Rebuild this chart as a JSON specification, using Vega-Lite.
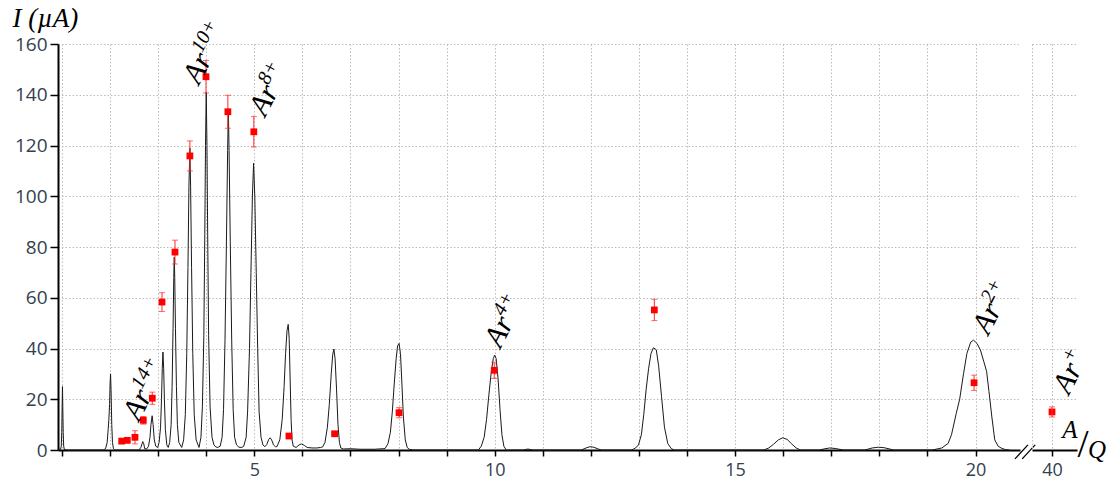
{
  "$schema": "https://vega.github.io/schema/vega-lite/v6.json",
  "background": "white",
  "padding": {"left": 12, "top": 4, "right": 0, "bottom": 0},
  "autosize": {"type": "pad"},
  "config": {
    "view": {"stroke": null},
    "axis": {"labelFlush": false, "labelOverlap": false, "labelBound": false}
  },
  "datasets": {
    "spectrum": [
      {"x":0.92,"y":0.3},{"x":0.97,"y":0.3},{"x":0.985,"y":1.5},{"x":0.995,"y":7},{"x":1.003,"y":17},{"x":1.01,"y":25},{"x":1.017,"y":17},{"x":1.025,"y":7},{"x":1.035,"y":1.5},{"x":1.05,"y":0.2},{"x":1.1,"y":0},
      {"x":1.5,"y":0},{"x":1.88,"y":0},{"x":1.91,"y":0.8},{"x":1.94,"y":3},{"x":1.96,"y":8},{"x":1.975,"y":12},{"x":1.99,"y":18},{"x":2.0,"y":26},{"x":2.01,"y":30},{"x":2.02,"y":24},{"x":2.035,"y":10},{"x":2.05,"y":3},{"x":2.07,"y":0.5},{"x":2.1,"y":0},
      {"x":2.3,"y":0},{"x":2.6,"y":0},{"x":2.64,"y":1},{"x":2.68,"y":3.3},{"x":2.7,"y":2.5},{"x":2.72,"y":0.5},{"x":2.76,"y":0.4},{"x":2.8,"y":1.5},{"x":2.83,"y":5},{"x":2.85,"y":10},{"x":2.875,"y":13.5},{"x":2.895,"y":10},{"x":2.92,"y":4},{"x":2.95,"y":1.5},{"x":2.99,"y":1},
      {"x":3.02,"y":3},{"x":3.05,"y":9},{"x":3.07,"y":20},{"x":3.085,"y":32},{"x":3.1,"y":38.6},{"x":3.115,"y":32},{"x":3.13,"y":20},{"x":3.15,"y":8},{"x":3.18,"y":2},{"x":3.21,"y":1},
      {"x":3.24,"y":3},{"x":3.27,"y":10},{"x":3.29,"y":25},{"x":3.31,"y":48},{"x":3.325,"y":68},{"x":3.335,"y":76},{"x":3.345,"y":68},{"x":3.36,"y":48},{"x":3.38,"y":25},{"x":3.4,"y":10},{"x":3.43,"y":3},{"x":3.49,"y":1},
      {"x":3.53,"y":4},{"x":3.565,"y":14},{"x":3.595,"y":38},{"x":3.62,"y":72},{"x":3.64,"y":104},{"x":3.66,"y":119},{"x":3.675,"y":104},{"x":3.695,"y":72},{"x":3.72,"y":38},{"x":3.75,"y":14},{"x":3.79,"y":4},{"x":3.85,"y":1},
      {"x":3.89,"y":5},{"x":3.92,"y":17},{"x":3.95,"y":45},{"x":3.97,"y":85},{"x":3.985,"y":120},{"x":4.0,"y":141},{"x":4.015,"y":120},{"x":4.03,"y":85},{"x":4.05,"y":45},{"x":4.08,"y":17},{"x":4.12,"y":5},{"x":4.16,"y":2},{"x":4.2,"y":1.2},{"x":4.24,"y":1},
      {"x":4.29,"y":1.5},{"x":4.33,"y":5},{"x":4.36,"y":16},{"x":4.39,"y":43},{"x":4.42,"y":82},{"x":4.445,"y":118},{"x":4.46,"y":134},{"x":4.475,"y":118},{"x":4.5,"y":82},{"x":4.53,"y":43},{"x":4.56,"y":16},{"x":4.59,"y":5},{"x":4.63,"y":2},{"x":4.68,"y":1.1},{"x":4.74,"y":1},
      {"x":4.78,"y":1.5},{"x":4.83,"y":5},{"x":4.86,"y":15},{"x":4.9,"y":40},{"x":4.93,"y":70},{"x":4.96,"y":100},{"x":4.985,"y":113},{"x":5.01,"y":100},{"x":5.04,"y":70},{"x":5.07,"y":40},{"x":5.1,"y":15},{"x":5.14,"y":5},{"x":5.18,"y":2},{"x":5.22,"y":1.3},
      {"x":5.26,"y":2.2},{"x":5.3,"y":4.2},{"x":5.33,"y":4.8},{"x":5.36,"y":4},{"x":5.4,"y":2},{"x":5.44,"y":1.3},{"x":5.47,"y":1.3},
      {"x":5.53,"y":4},{"x":5.58,"y":12},{"x":5.62,"y":25},{"x":5.65,"y":38},{"x":5.68,"y":47},{"x":5.705,"y":49.5},{"x":5.725,"y":44},{"x":5.745,"y":28},{"x":5.765,"y":12},{"x":5.785,"y":4},{"x":5.81,"y":1.5},
      {"x":5.87,"y":1},{"x":5.93,"y":2},{"x":5.98,"y":2.4},{"x":6.04,"y":1.8},{"x":6.1,"y":1},{"x":6.2,"y":0.8},{"x":6.3,"y":0.8},{"x":6.38,"y":1},
      {"x":6.42,"y":1.2},{"x":6.47,"y":3},{"x":6.52,"y":9},{"x":6.56,"y":18},{"x":6.6,"y":30},{"x":6.63,"y":37.5},{"x":6.655,"y":39.8},{"x":6.68,"y":36},{"x":6.71,"y":24},{"x":6.74,"y":10},{"x":6.77,"y":3},{"x":6.8,"y":0.8},{"x":6.85,"y":0.4},
      {"x":7.0,"y":0.5},{"x":7.2,"y":0.3},{"x":7.5,"y":0.3},{"x":7.68,"y":0.5},
      {"x":7.72,"y":0.6},{"x":7.78,"y":2.5},{"x":7.83,"y":7},{"x":7.87,"y":15},{"x":7.91,"y":26},{"x":7.95,"y":36},{"x":7.98,"y":41},{"x":8.01,"y":42},{"x":8.04,"y":38},{"x":8.07,"y":26},{"x":8.1,"y":13},{"x":8.14,"y":4},{"x":8.18,"y":1},{"x":8.22,"y":0.3},{"x":8.3,"y":0},
      {"x":9.0,"y":0},{"x":9.66,"y":0},{"x":9.72,"y":1.5},{"x":9.78,"y":5},{"x":9.83,"y":12},{"x":9.88,"y":22},{"x":9.93,"y":31},{"x":9.97,"y":36},{"x":10.0,"y":37.4},{"x":10.03,"y":36},{"x":10.07,"y":28},{"x":10.11,"y":16},{"x":10.15,"y":6},{"x":10.19,"y":1.5},{"x":10.24,"y":0},
      {"x":10.6,"y":0},{"x":10.69,"y":0.4},{"x":10.78,"y":0},
      {"x":11.8,"y":0},{"x":11.9,"y":0.8},{"x":11.98,"y":1.3},{"x":12.06,"y":1.1},{"x":12.15,"y":0.4},{"x":12.22,"y":0},
      {"x":12.85,"y":0},{"x":12.93,"y":0.8},{"x":12.99,"y":2},{"x":13.05,"y":6},{"x":13.1,"y":14},{"x":13.15,"y":24},{"x":13.2,"y":32},{"x":13.25,"y":38},{"x":13.3,"y":40.3},{"x":13.36,"y":39.5},{"x":13.41,"y":33},{"x":13.47,"y":21},{"x":13.53,"y":9},{"x":13.6,"y":2.5},{"x":13.67,"y":0.6},{"x":13.73,"y":0},
      {"x":15.6,"y":0},{"x":15.7,"y":0.8},{"x":15.8,"y":2.3},{"x":15.9,"y":4},{"x":15.99,"y":4.8},{"x":16.08,"y":4.2},{"x":16.17,"y":2.5},{"x":16.27,"y":0.8},{"x":16.36,"y":0},
      {"x":16.75,"y":0},{"x":16.87,"y":0.5},{"x":16.97,"y":0.8},{"x":17.08,"y":0.6},{"x":17.25,"y":0},
      {"x":17.7,"y":0},{"x":17.85,"y":0.8},{"x":17.98,"y":1.1},{"x":18.1,"y":0.9},{"x":18.3,"y":0},
      {"x":19.1,"y":0},{"x":19.3,"y":0.8},{"x":19.43,"y":2.6},{"x":19.5,"y":6},{"x":19.6,"y":14.5},{"x":19.67,"y":20},{"x":19.75,"y":30},{"x":19.82,"y":38},{"x":19.9,"y":42.5},{"x":19.96,"y":43.3},{"x":20.03,"y":42},{"x":20.1,"y":39.5},{"x":20.17,"y":35},{"x":20.23,"y":31},{"x":20.28,"y":23},{"x":20.34,"y":13},{"x":20.4,"y":4},{"x":20.47,"y":1.5},{"x":20.55,"y":0.6},{"x":20.62,"y":0.2},{"x":20.7,"y":0}
    ],
    "ions": [
      {"x":2.242,"y":3.5,"lo":3.0,"hi":4.0},
      {"x":2.358,"y":3.8,"lo":3.3,"hi":4.3},
      {"x":2.518,"y":5.0,"lo":2.4,"hi":7.6},
      {"x":2.691,"y":11.7,"lo":10.2,"hi":13.2},
      {"x":2.878,"y":20.4,"lo":18.0,"hi":22.8},
      {"x":3.08,"y":58.3,"lo":54.6,"hi":62.0},
      {"x":3.35,"y":78.0,"lo":73.3,"hi":82.7},
      {"x":3.66,"y":115.9,"lo":110.0,"hi":121.8},
      {"x":3.995,"y":147.1,"lo":140.7,"hi":153.5},
      {"x":4.45,"y":133.3,"lo":126.8,"hi":139.8},
      {"x":4.99,"y":125.4,"lo":119.4,"hi":131.4},
      {"x":5.72,"y":5.5,"lo":5.0,"hi":6.0},
      {"x":6.67,"y":6.4,"lo":5.9,"hi":6.9},
      {"x":8.01,"y":14.7,"lo":12.7,"hi":16.7},
      {"x":9.99,"y":31.4,"lo":28.2,"hi":34.6},
      {"x":13.32,"y":55.2,"lo":51.0,"hi":59.4},
      {"x":19.97,"y":26.5,"lo":23.5,"hi":29.5}
    ],
    "ion1": [
      {"x":40,"y":15.0,"lo":13.0,"hi":17.0}
    ],
    "labels": [
      {"s":"14+","x":2.6,"y":11},
      {"s":"10+","x":3.85,"y":143.6},
      {"s":"8+","x":5.23,"y":131},
      {"s":"4+","x":10.12,"y":39.8},
      {"s":"2+","x":20.27,"y":45}
    ],
    "label1": [
      {"s":"+","x":41.7,"y":21.5}
    ],
    "breaks": [
      {"x":20.82,"x2":21.09,"y":-3.5,"y2":2.0},
      {"x":20.97,"x2":21.24,"y":-3.5,"y2":2.0}
    ],
    "aq": [
      {"t":"A","x":41.8,"y":4.7},
      {"t":"/","x":43.1,"y":2.0},
      {"t":"Q","x":44.5,"y":-3.0}
    ]
  },
  "hconcat": [
    {
      "width": 962,
      "height": 406,
      "layer": [
        {
          "data": {"name": "spectrum"},
          "mark": {"type": "line", "color": "#1a1a1a", "strokeWidth": 1},
          "encoding": {
            "x": {"field": "x", "type": "quantitative", "title": null,
              "scale": {"domain": [0.917, 20.925], "nice": false, "zero": false},
              "axis": {"values": [1,2,3,4,5,6,7,8,9,10,11,12,13,14,15,16,17,18,19,20],
                "labelExpr": "datum.value % 5 === 0 ? datum.label : ''",
                "grid": true, "gridColor": "#bdbdbd", "gridDash": [1.5,2], "gridWidth": 1,
                "domainColor": "black", "domainWidth": 2, "tickColor": "black", "tickWidth": 1.5, "tickSize": 6,
                "labelFont": "Open Sans", "labelFontSize": 18, "labelColor": "#33414f", "labelPadding": 5}},
            "y": {"field": "y", "type": "quantitative", "title": "I (µA)",
              "scale": {"domain": [0, 160], "nice": false},
              "axis": {"values": [0,5,10,15,20,25,30,35,40,45,50,55,60,65,70,75,80,85,90,95,100,105,110,115,120,125,130,135,140,145,150,155,160],
                "labelExpr": "datum.value % 20 === 0 ? datum.label : ''",
                "tickSize": {"condition": {"test": "datum.value % 20 === 0", "value": 8}, "value": 5},
                "grid": true, "gridColor": "#bdbdbd", "gridDash": [1.5,2], "gridWidth": 1,
                "domainColor": "black", "domainWidth": 2, "tickColor": "black", "tickWidth": 1.5,
                "labelFont": "Open Sans", "labelFontSize": 19, "labelColor": "#33414f", "labelPadding": 3,
                "titleAngle": 0, "titleX": -46, "titleY": -18, "titleAlign": "left", "titleBaseline": "alphabetic",
                "titleFont": "Liberation Serif", "titleFontStyle": "italic", "titleFontWeight": "normal", "titleFontSize": 27, "titleColor": "black"}}
          }
        },
        {
          "data": {"name": "ions"},
          "mark": {"type": "errorbar", "ticks": {"size": 6}, "color": "#ff2a2a", "thickness": 1},
          "encoding": {
            "x": {"field": "x", "type": "quantitative", "title": null},
            "y": {"field": "lo", "type": "quantitative", "title": "I (µA)"},
            "y2": {"field": "hi"}
          }
        },
        {
          "data": {"name": "ions"},
          "mark": {"type": "point", "shape": "square", "filled": true, "color": "#ff0000", "size": 46, "opacity": 1},
          "encoding": {
            "x": {"field": "x", "type": "quantitative", "title": null},
            "y": {"field": "y", "type": "quantitative", "title": "I (µA)"}
          }
        },
        {
          "data": {"name": "labels"},
          "mark": {"type": "text", "text": "Ar", "angle": -63, "align": "left", "baseline": "alphabetic", "font": "Liberation Serif", "fontStyle": "italic", "fontSize": 30, "color": "black"},
          "encoding": {
            "x": {"field": "x", "type": "quantitative", "title": null},
            "y": {"field": "y", "type": "quantitative", "title": "I (µA)"}
          }
        },
        {
          "data": {"name": "labels"},
          "mark": {"type": "text", "angle": -63, "align": "left", "baseline": "alphabetic", "dx": 30, "dy": -12, "font": "Liberation Serif", "fontStyle": "italic", "fontSize": 20, "color": "black"},
          "encoding": {
            "x": {"field": "x", "type": "quantitative", "title": null},
            "y": {"field": "y", "type": "quantitative", "title": "I (µA)"},
            "text": {"field": "s"}
          }
        },
        {
          "data": {"name": "breaks"},
          "mark": {"type": "rule", "color": "black", "strokeWidth": 1.3},
          "encoding": {
            "x": {"field": "x", "type": "quantitative", "title": null},
            "x2": {"field": "x2"},
            "y": {"field": "y", "type": "quantitative", "title": "I (µA)"},
            "y2": {"field": "y2"}
          }
        }
      ]
    },
    {
      "width": 45,
      "height": 406,
      "layer": [
        {
          "data": {"name": "ion1"},
          "mark": {"type": "point", "shape": "square", "filled": true, "color": "#ff0000", "size": 46, "opacity": 1},
          "encoding": {
            "x": {"field": "x", "type": "quantitative", "title": null,
              "scale": {"domain": [38, 42.5], "nice": false, "zero": false},
              "axis": {"values": [38, 40],
                "labelExpr": "datum.value === 40 ? datum.label : ''",
                "tickOpacity": {"condition": {"test": "datum.value === 38", "value": 0}, "value": 1},
                "grid": true, "gridColor": "#bdbdbd", "gridDash": [1.5,2], "gridWidth": 1,
                "domainColor": "black", "domainWidth": 2, "tickColor": "black", "tickWidth": 1.5, "tickSize": 6,
                "labelFont": "Open Sans", "labelFontSize": 18, "labelColor": "#33414f", "labelPadding": 5}},
            "y": {"field": "y", "type": "quantitative", "title": null,
              "scale": {"domain": [0, 160], "nice": false},
              "axis": {"values": [0,5,10,15,20,25,30,35,40,45,50,55,60,65,70,75,80,85,90,95,100,105,110,115,120,125,130,135,140,145,150,155,160],
                "labels": false, "ticks": false, "domain": false,
                "grid": true, "gridColor": "#bdbdbd", "gridDash": [1.5,2], "gridWidth": 1}}
          }
        },
        {
          "data": {"name": "ion1"},
          "mark": {"type": "errorbar", "ticks": {"size": 6}, "color": "#ff2a2a", "thickness": 1},
          "encoding": {
            "x": {"field": "x", "type": "quantitative", "title": null},
            "y": {"field": "lo", "type": "quantitative", "title": null},
            "y2": {"field": "hi"}
          }
        },
        {
          "data": {"name": "label1"},
          "mark": {"type": "text", "text": "Ar", "angle": -63, "align": "left", "baseline": "alphabetic", "font": "Liberation Serif", "fontStyle": "italic", "fontSize": 30, "color": "black"},
          "encoding": {
            "x": {"field": "x", "type": "quantitative", "title": null},
            "y": {"field": "y", "type": "quantitative", "title": null}
          }
        },
        {
          "data": {"name": "label1"},
          "mark": {"type": "text", "angle": -63, "align": "left", "baseline": "alphabetic", "dx": 30, "dy": -12, "font": "Liberation Serif", "fontStyle": "italic", "fontSize": 20, "color": "black"},
          "encoding": {
            "x": {"field": "x", "type": "quantitative", "title": null},
            "y": {"field": "y", "type": "quantitative", "title": null},
            "text": {"field": "s"}
          }
        },
        {
          "data": {"name": "aq"},
          "transform": [{"filter": "datum.t !== '/'"}],
          "mark": {"type": "text", "align": "center", "baseline": "alphabetic", "font": "Liberation Serif", "fontStyle": "italic", "fontSize": 25, "color": "black"},
          "encoding": {
            "x": {"field": "x", "type": "quantitative", "title": null},
            "y": {"field": "y", "type": "quantitative", "title": null},
            "text": {"field": "t"}
          }
        },
        {
          "data": {"name": "aq"},
          "transform": [{"filter": "datum.t === '/'"}],
          "mark": {"type": "text", "align": "center", "baseline": "middle", "font": "Liberation Serif", "fontSize": 40, "color": "black"},
          "encoding": {
            "x": {"field": "x", "type": "quantitative", "title": null},
            "y": {"field": "y", "type": "quantitative", "title": null},
            "text": {"field": "t"}
          }
        }
      ]
    }
  ],
  "spacing": 12,
  "bounds": "flush",
  "resolve": {"scale": {"x": "independent", "y": "independent"}}
}
